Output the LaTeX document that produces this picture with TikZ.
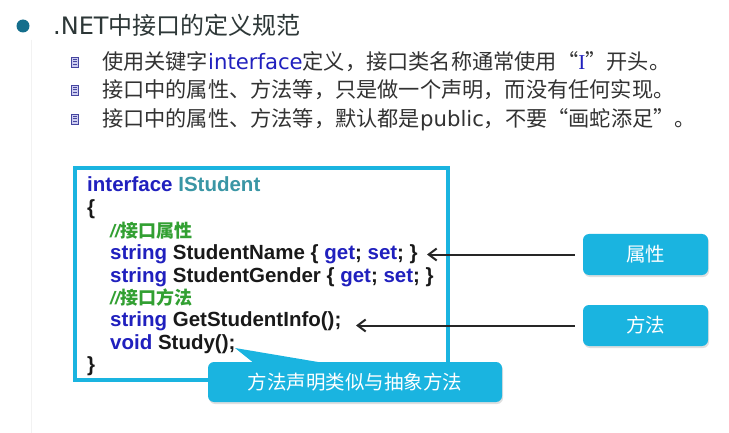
\documentclass[tikz,border=0pt]{standalone}
\usepackage{fontspec}
\setmainfont{Liberation Sans}
\newfontfamily\cjk{Noto Sans CJK SC}
\newfontfamily\dvs{DejaVu Sans}
\newfontfamily\serifI{Liberation Serif}
\usetikzlibrary{arrows.meta,shadows,calc}
\definecolor{cyanbox}{RGB}{26,180,224}
\definecolor{kwblue}{RGB}{32,32,190}
\definecolor{idteal}{RGB}{58,150,165}
\definecolor{cmtgreen}{RGB}{50,160,50}
\definecolor{txtgray}{RGB}{50,50,50}
\definecolor{titlegray}{RGB}{45,55,55}
\definecolor{bulletteal}{RGB}{20,110,140}
\definecolor{iconfill}{RGB}{205,205,240}
\definecolor{iconline}{RGB}{70,70,160}
\begin{document}
\begin{tikzpicture}[x=1pt,y=-1pt,
  bul/.style={anchor=base west, inner sep=0pt, text=txtgray, font=\cjk\fontsize{21.2}{26}\selectfont},
  icon/.style={draw=iconline, fill=iconfill, line width=0.6pt, minimum width=7pt, minimum height=10pt, inner sep=0pt,
    path picture={\foreach \k in {-2.5,0,2.5}{\draw[iconline, line width=1pt] ([xshift=1.5pt,yshift=\k pt]path picture bounding box.west) -- ([xshift=-1.5pt,yshift=\k pt]path picture bounding box.east);}}},
  code/.style={anchor=base west, inner sep=0pt, text=black!90, font=\bfseries\fontsize{20.5}{24}\selectfont},
  cmt/.style={anchor=base west, inner sep=0pt, text=cmtgreen, font=\fontsize{18}{22}\selectfont},
  cbox/.style={fill=cyanbox, rounded corners=6pt, text=white, inner sep=0pt,
    font=\cjk\fontsize{19.5}{24}\selectfont,
    drop shadow={opacity=0.25, shadow xshift=1pt, shadow yshift=-2pt}},
  arr/.style={draw=black!85, line width=2pt, -{Straight Barb[length=8pt,width=12pt]}}
]
\useasboundingbox (0,0) rectangle (729,433);
\fill[white] (0,0) rectangle (729,433);
\draw[black!5, line width=1pt] (31,40) -- (31,433);

% title
\node[circle, fill=bulletteal, minimum size=13pt, inner sep=0pt] (b0) at (23,26) {};
\node[anchor=base west, inner sep=0pt, text=titlegray, font=\fontsize{24}{28}\selectfont] (title) at (53,35)
  {{\dvs .NET}{\cjk 中接口的定义规范}};

% sub bullets
\node[icon] (i1) at (75,62) {};
\node[icon] (i2) at (75,90) {};
\node[icon] (i3) at (75,119) {};
\node[bul] (l1) at (102,70) {使用关键字{\dvs\color{kwblue}interface}定义，接口类名称通常使用“{\serifI\color{kwblue}I}”开头。};
\node[bul] (l2) at (102,98) {接口中的属性、方法等，只是做一个声明，而没有任何实现。};
\node[bul] (l3) at (102,127) {接口中的属性、方法等，默认都是{\dvs public}，不要“画蛇添足”。};

% code box
\node[draw=cyanbox, fill=white, line width=4pt, minimum width=373pt, minimum height=212pt, inner sep=0pt,
  drop shadow={opacity=0.15, shadow xshift=1pt, shadow yshift=-2pt}] (codebox) at (261.5,274) {};

\node[code] (c1) at (87,192) {{\color{kwblue}interface} {\color{idteal}IStudent}};
\node[code] (c2) at (87,214.5) {\{};
\node[cmt]  (c3) at (110,237) {{\bfseries\itshape //}{\cjk\bfseries 接口属性}};
\node[code] (c4) at (110,259.5) {{\color{kwblue}string} StudentName \{ {\color{kwblue}get}; {\color{kwblue}set}; \}};
\node[code] (c5) at (110,282) {{\color{kwblue}string} StudentGender \{ {\color{kwblue}get}; {\color{kwblue}set}; \}};
\node[cmt]  (c6) at (110,304) {{\bfseries\itshape //}{\cjk\bfseries 接口方法}};
\node[code] (c7) at (110,326.5) {{\color{kwblue}string} GetStudentInfo();};
\node[code] (c8) at (110,349) {{\color{kwblue}void} Study();};
\node[code] (c9) at (87,371) {\}};

% side boxes
\node[cbox, minimum width=125pt, minimum height=41pt] (shuxing) at (645.5,254.5) {属性};
\node[cbox, minimum width=125pt, minimum height=41pt] (fangfa) at (645.5,325.5) {方法};

\coordinate (t1) at (427,254.5);
\coordinate (t2) at (356,325.5);
\draw[arr, shorten <=8pt] (shuxing.west) -- (t1);
\draw[arr, shorten <=8pt] (fangfa.west) -- (t2);

% callout
\node[cbox, minimum width=294pt, minimum height=40pt] (callout) at (355,382) {方法声明类似与抽象方法};
\coordinate (ptip) at (235,348);
\fill[cyanbox] (255,364) -- (ptip) -- (330,364) -- cycle;
\end{tikzpicture}
\end{document}
